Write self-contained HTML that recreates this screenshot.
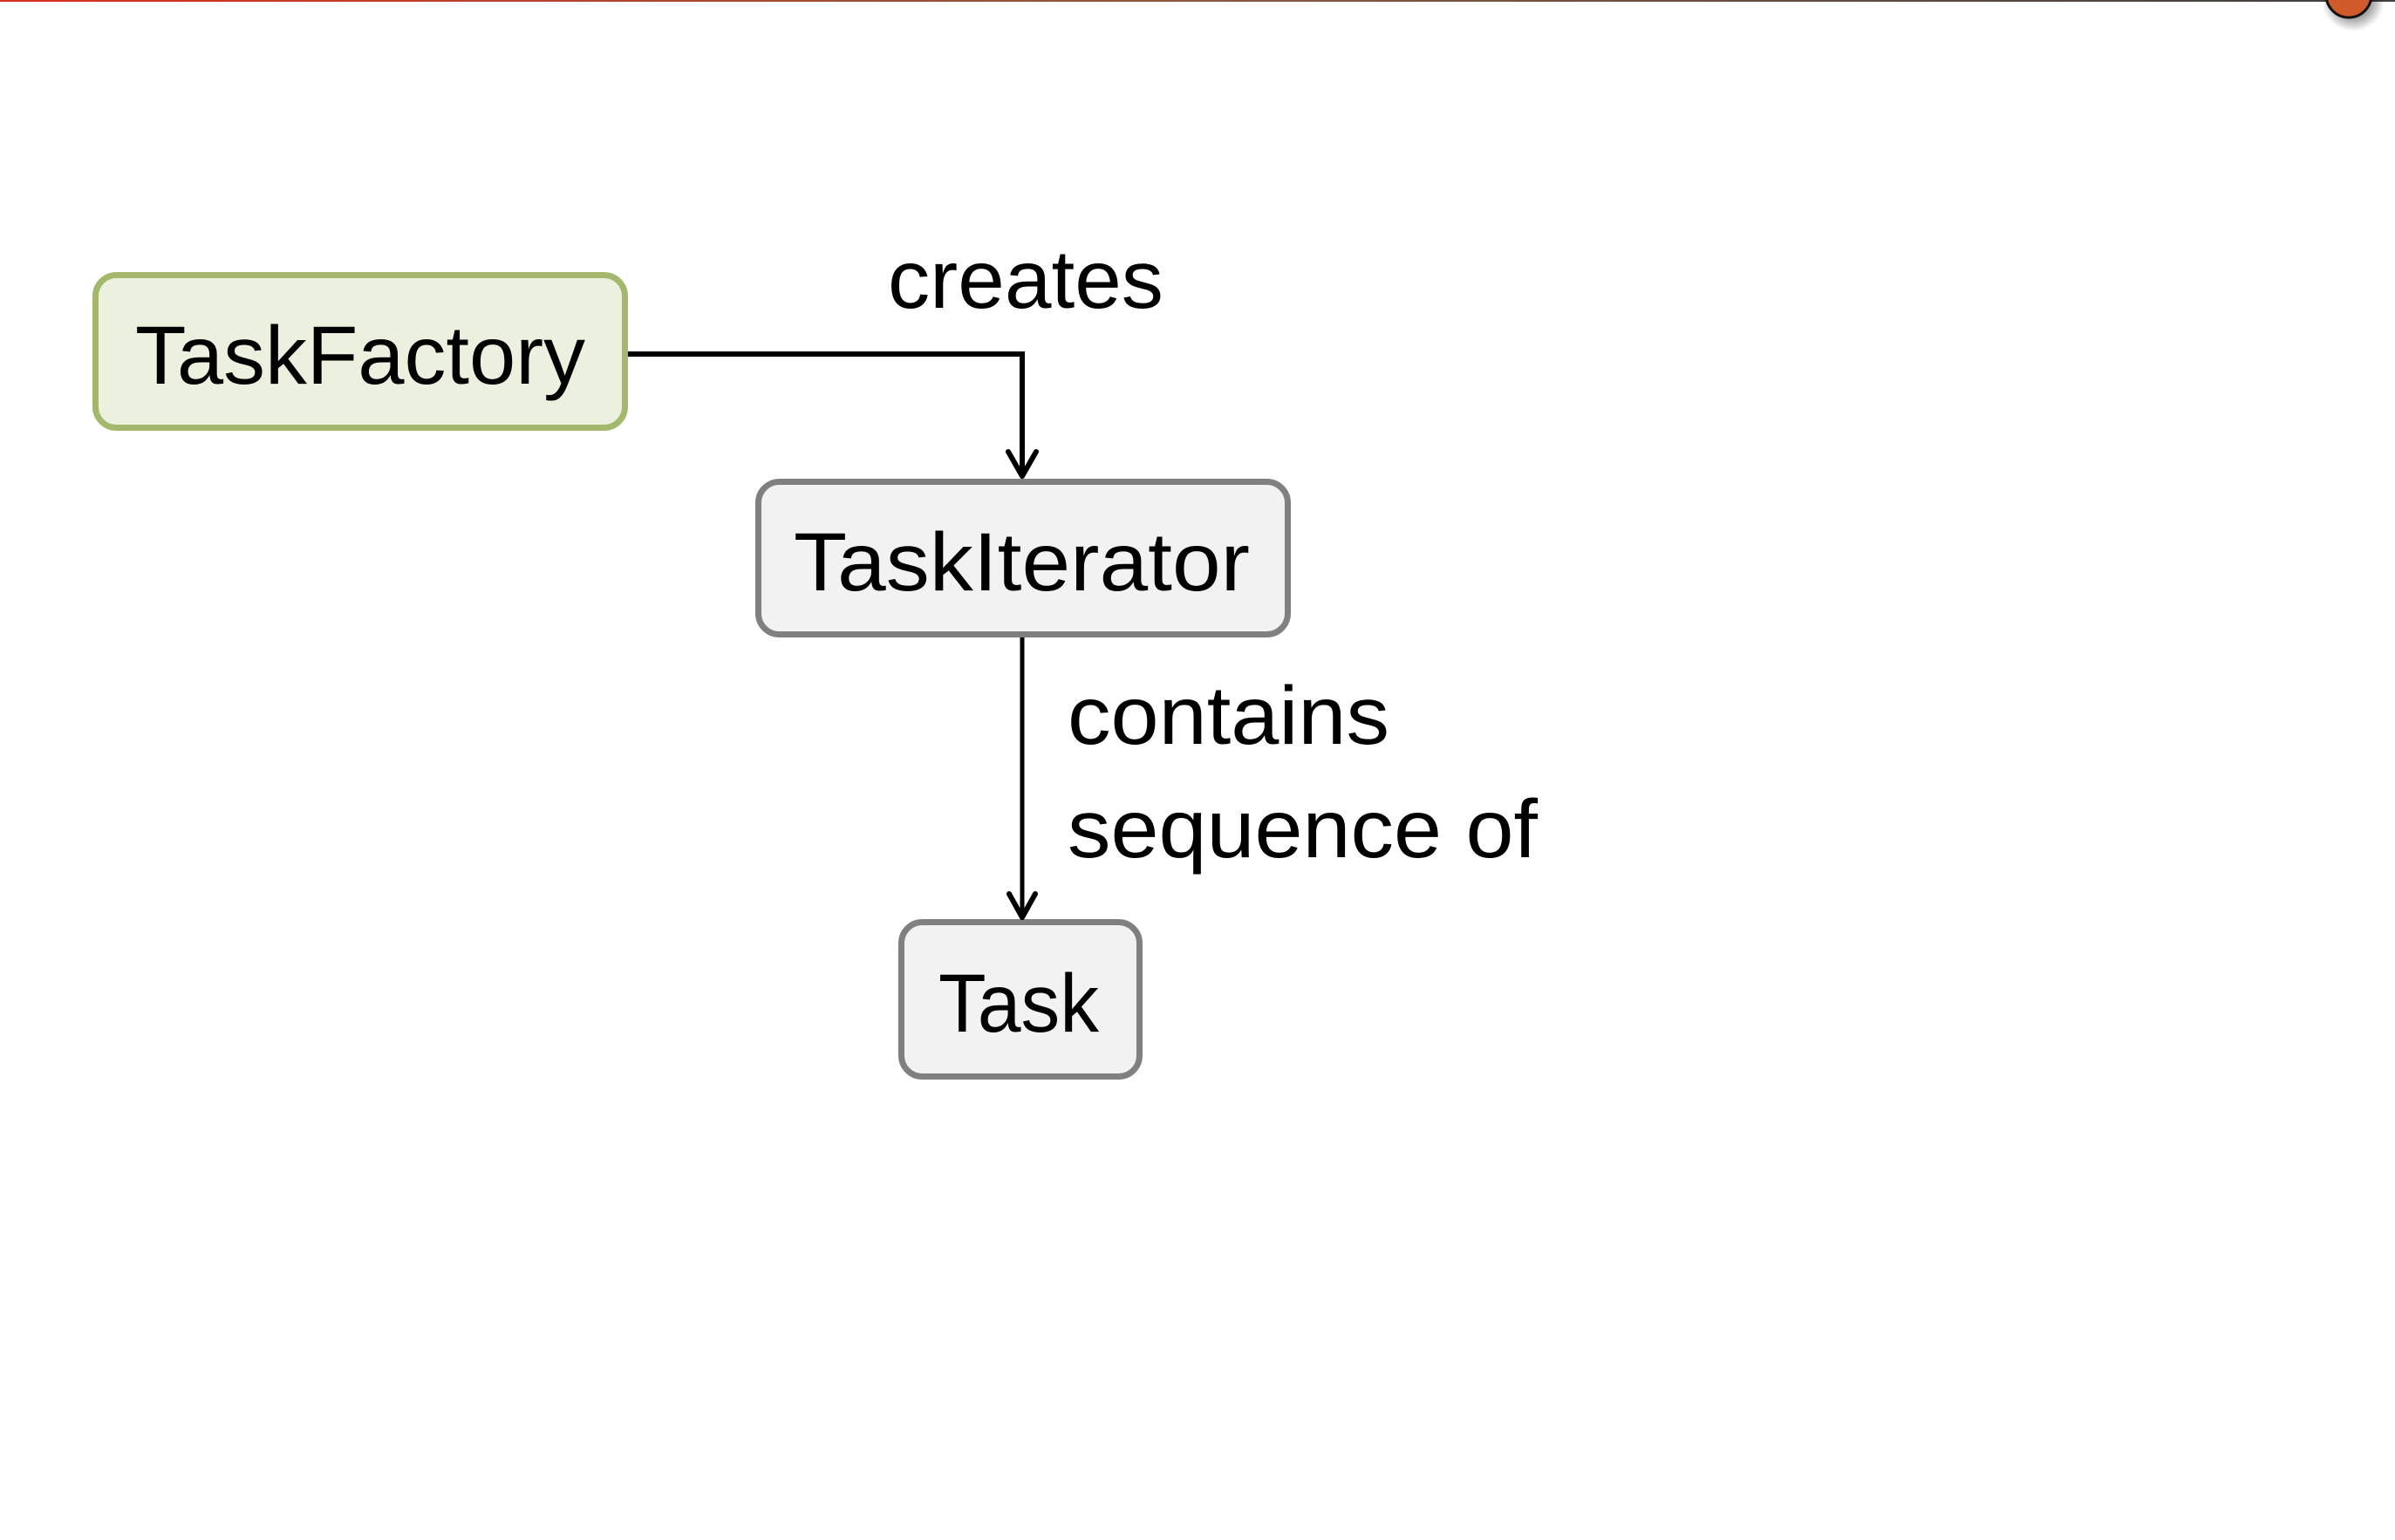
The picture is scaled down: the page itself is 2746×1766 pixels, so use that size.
<!DOCTYPE html>
<html><head><meta charset="utf-8"><style>
html,body{margin:0;padding:0;background:#fff;}
svg{display:block;}
text{font-family:"Liberation Sans",sans-serif;fill:#000;}
</style></head><body>
<svg width="2746" height="1766" viewBox="0 0 2746 1766" xmlns="http://www.w3.org/2000/svg">
<defs>
<linearGradient id="tl" x1="0" x2="1" y1="0" y2="0">
<stop offset="0" stop-color="#d9301c"/><stop offset="0.5" stop-color="#8a5a40"/><stop offset="1" stop-color="#404040"/>
</linearGradient>
<radialGradient id="sh" cx="0.5" cy="0.5" r="0.5"><stop offset="0.6" stop-color="#000" stop-opacity="0.35"/><stop offset="1" stop-color="#000" stop-opacity="0"/></radialGradient>
</defs>
<rect x="0" y="0" width="2746" height="2" fill="url(#tl)"/>
<circle cx="2698" cy="0" r="36" fill="url(#sh)"/>
<circle cx="2693" cy="-6" r="26" fill="#d05a2a" stroke="#111" stroke-width="3"/>

<rect x="109.5" y="315.5" width="607" height="175" rx="24" fill="#ebf1de" stroke="#a3b86c" stroke-width="7"/>
<rect x="869.5" y="552.5" width="607" height="175" rx="24" fill="#f2f2f2" stroke="#808080" stroke-width="7"/>
<rect x="1033.5" y="1057.5" width="273" height="177" rx="24" fill="#f2f2f2" stroke="#808080" stroke-width="7"/>

<polyline points="720,406 1172,406 1172,546" fill="none" stroke="#000" stroke-width="6"/>
<polyline points="1156,518 1172,546 1188,518" fill="none" stroke="#000" stroke-width="6" stroke-linecap="round" stroke-linejoin="round"/>
<line x1="1172" y1="731" x2="1172" y2="1052" stroke="#000" stroke-width="5"/>
<polyline points="1157,1025 1172,1052 1187,1025" fill="none" stroke="#000" stroke-width="6" stroke-linecap="round" stroke-linejoin="round"/>

<text x="155" y="440" font-size="95" textLength="516" lengthAdjust="spacingAndGlyphs">TaskFactory</text>
<text x="910" y="677" font-size="95" textLength="523" lengthAdjust="spacingAndGlyphs">TaskIterator</text>
<text x="1076" y="1183" font-size="95" textLength="184" lengthAdjust="spacingAndGlyphs">Task</text>
<text x="1018" y="353" font-size="95" textLength="316" lengthAdjust="spacingAndGlyphs">creates</text>
<text x="1224" y="853" font-size="95" textLength="369" lengthAdjust="spacingAndGlyphs">contains</text>
<text x="1224" y="983" font-size="95" textLength="539" lengthAdjust="spacingAndGlyphs">sequence of</text>
</svg>
</body></html>
